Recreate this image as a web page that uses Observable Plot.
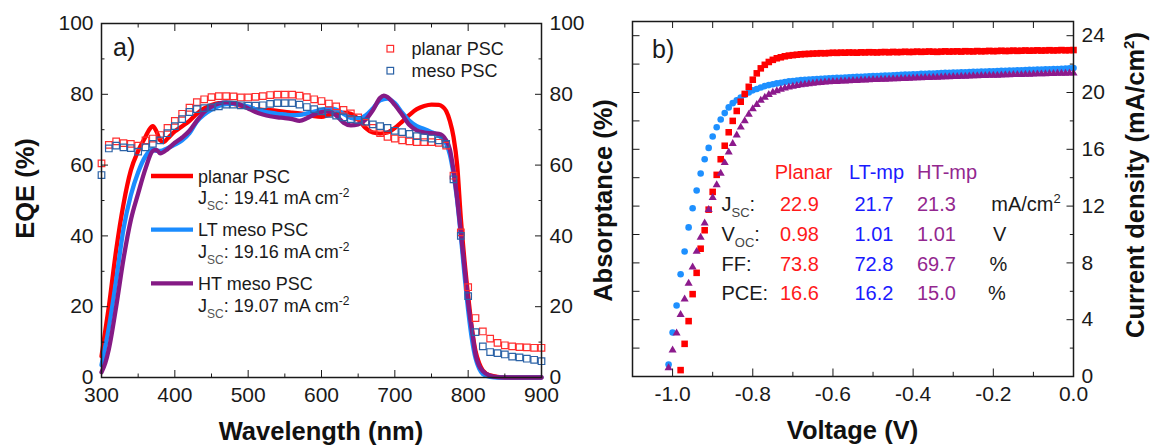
<!DOCTYPE html>
<html><head><meta charset="utf-8">
<script src="https://cdn.jsdelivr.net/npm/d3@7"></script>
<script src="https://cdn.jsdelivr.net/npm/@observablehq/plot@0.6"></script>
<style>
body{margin:0;background:#fff;}
#chart{position:relative;width:1152px;height:447px;overflow:hidden;background:#fff;}
#chart svg{position:absolute;top:0;}
</style></head><body><div id="chart"></div>
<script>
// ---------- Panel a: EQE data ----------
const wlSquares = [300,310,320,330,340,350,360,370,380,390,400,410,420,430,440,450,460,470,480,490,500,510,520,530,540,550,560,570,580,590,600,610,620,630,640,650,660,670,680,690,700,710,720,730,740,750,760,770,780,790,800,810,820,830,840,850,860,870,880,890,900];
const eqePlanarSquares = [60.5,65.7,66.7,66.2,66,65.5,67,67.5,68.5,70.5,72.5,74.5,76.2,77.8,78.6,79.2,79.5,79.5,79.4,79.1,79.1,79.3,79.5,79.8,79.9,79.9,79.9,79.6,79.2,78.6,78.1,77.4,76.6,75.6,74.6,73.5,72,70.5,69,68,67.5,67,66.7,66.5,66.5,66.5,66.3,65.5,57,41,25.5,16.8,13,11,9.8,9.1,8.8,8.6,8.5,8.4,8.4];
const eqeMesoSquares = [57.2,64.7,65.5,65,64.8,63.8,65,66,67,69,71,73,75,75.8,76.1,76.3,76.6,77.1,77.1,76.9,76.8,76.8,76.9,77.3,77.5,77.5,77.5,77.1,76.4,75.8,75.2,74.5,74,73.5,73,72.8,72.3,71.5,71,70.5,69.7,69.3,68.8,68.2,67.8,67.5,67,66,56,40,23,12.8,8.8,7.2,6.9,6.5,5.9,5.7,5.3,5.0,4.6];

const wlPlanarLine = [300,305,310,320,330,340,350,360,365,370,375,380,385,390,400,410,420,430,440,450,460,470,480,490,500,510,520,530,540,550,560,570,580,590,600,610,620,630,640,650,660,670,680,690,700,710,720,730,740,750,760,765,770,775,780,785,790,795,800,805,810,815,820,830,840,850,870,900];
const eqePlanarLine = [6,13,20,36,49,58.5,64,68,70,71,69.5,67,66.5,67.5,69.5,71,72.5,74.5,76,77,77.5,77.5,77.3,76.8,76.2,75.8,75.6,75.5,75.3,75,74.8,74.6,74.3,73.8,73.6,74.2,74.6,74.8,74.5,73,70.5,69.2,68.9,69.2,70.5,72.3,74.2,75.8,76.7,77.1,77,76.5,75.3,72.5,68,60,45,33,23,14,7.5,4,2,0.6,0.2,0.1,0,0];

const wlLTLine = [300,310,320,330,340,350,360,370,375,380,390,400,410,420,430,440,450,460,470,480,490,500,510,520,530,540,550,560,570,580,590,600,610,620,630,640,650,660,670,680,690,700,710,720,730,740,750,760,770,775,780,785,790,795,800,805,810,815,820,830,840,900];
const eqeLTLine = [3.5,14,27.5,42,51.5,58,62.5,64.5,64,64,64.8,65.8,67,69,72.3,74.3,75.7,76.7,77.2,77.3,77,76.5,75.8,75.2,74.8,74.5,74.3,74.1,74.2,74.6,75.1,75.6,76,75.7,74.5,73.3,73,74,76,78.3,78.8,77.5,74.8,72.5,71,70.2,69.3,68.3,66,63,57.5,50,40,29,19,11,5.5,2.5,1,0.2,0,0];

const wlHTLine = [300,305,310,320,330,340,350,360,370,375,380,390,400,410,420,430,440,450,460,470,480,490,500,510,520,530,540,550,560,570,580,590,600,610,620,630,640,650,660,670,680,685,690,700,710,720,730,740,750,760,770,775,780,785,790,795,800,805,810,815,820,830,840,850,900];
const eqeHTLine = [1.5,4,8,20,33.5,44.5,52,59,64,64.3,63.3,64.5,66.3,67.8,69.7,72.5,75,76.5,77.4,77.7,77.5,77,76,75,74.3,73.8,73.5,73.3,73,72.5,73.2,74.3,75,75.2,74,72,71.2,71.5,72.8,75.5,79,79.6,79.2,77,74.2,71.3,69.8,69.2,69,68.8,67,64.5,58.5,50.5,41,31,21,13.5,6.5,3.3,1.8,0.5,0.1,0,0];

const legendSquareLabels = ["planar PSC", "meso PSC"];
const legendLineLabels = ["planar PSC", "LT meso PSC", "HT meso PSC"];
const legendJsc = ["19.41", "19.16", "19.07"];

const xMajorA = [300,400,500,600,700,800,900];
const xMinorA = [350,450,550,650,750,850];
const yMajorA = [0,20,40,60,80,100];
const yMinorA = [10,30,50,70,90];

// ---------- Panel b: J-V data ----------
const voltage = [
-1.01,-1.00,-0.99,-0.98,-0.97,-0.96,-0.95,-0.94,-0.93,-0.92,
-0.91,-0.90,-0.89,-0.88,-0.87,-0.86,-0.85,-0.84,-0.83,-0.82,
-0.81,-0.80,-0.79,-0.78,-0.77,-0.76,-0.75,-0.74,-0.73,-0.72,
-0.71,-0.70,-0.69,-0.68,-0.67,-0.66,-0.65,-0.64,-0.63,-0.62,
-0.61,-0.60,-0.59,-0.58,-0.57,-0.56,-0.55,-0.54,-0.53,-0.52,
-0.51,-0.50,-0.49,-0.48,-0.47,-0.46,-0.45,-0.44,-0.43,-0.42,
-0.41,-0.40,-0.39,-0.38,-0.37,-0.36,-0.35,-0.34,-0.33,-0.32,
-0.31,-0.30,-0.29,-0.28,-0.27,-0.26,-0.25,-0.24,-0.23,-0.22,
-0.21,-0.20,-0.19,-0.18,-0.17,-0.16,-0.15,-0.14,-0.13,-0.12,
-0.11,-0.10,-0.09,-0.08,-0.07,-0.06,-0.05,-0.04,-0.03,-0.02,
-0.01,0.00];
const jPlanar = [
null,null,null,0.45,2.3,3.9,5.8,7.3,9.0,10.3,
11.75,13.0,14.2,15.3,16.25,17.2,18.0,18.7,19.35,19.9,
20.4,20.9,21.35,21.7,21.95,22.15,22.3,22.41,22.48,22.55,
22.6,22.63,22.66,22.69,22.71,22.72,22.74,22.75,22.77,22.76,
22.78,22.8,22.79,22.81,22.8,22.82,22.81,22.8,22.83,22.82,
22.84,22.83,22.82,22.84,22.85,22.83,22.86,22.84,22.85,22.87,
22.85,22.86,22.88,22.86,22.87,22.89,22.87,22.86,22.88,22.9,
22.88,22.89,22.9,22.88,22.91,22.9,22.89,22.92,22.9,22.91,
22.93,22.91,22.92,22.94,22.92,22.93,22.95,22.93,22.94,22.96,
22.94,22.95,22.97,22.95,22.96,22.98,22.96,22.97,22.99,22.97,
22.98,22.99];
const jLT = [
0.85,3.1,5.0,7.2,8.8,10.5,11.85,13.1,14.3,15.3,
16.1,16.9,17.55,18.1,18.55,18.95,19.25,19.45,19.65,19.85,
20.0,20.15,20.25,20.35,20.45,20.52,20.58,20.64,20.69,20.74,
20.78,20.81,20.84,20.87,20.89,20.91,20.93,20.95,20.97,20.98,
21.0,21.01,21.03,21.04,21.06,21.07,21.08,21.1,21.11,21.12,
21.14,21.15,21.16,21.18,21.19,21.2,21.22,21.23,21.24,21.26,
21.27,21.28,21.29,21.31,21.32,21.33,21.34,21.36,21.37,21.38,
21.39,21.4,21.41,21.42,21.43,21.44,21.45,21.46,21.47,21.48,
21.49,21.5,21.51,21.52,21.53,21.54,21.55,21.56,21.57,21.58,
21.59,21.6,21.61,21.62,21.63,21.64,21.65,21.66,21.67,21.68,
21.7,21.72];
const jHT = [
0.6,1.85,3.05,4.35,5.45,6.55,7.7,8.8,9.8,10.8,
11.75,12.6,13.5,14.3,15.05,15.8,16.4,17.0,17.55,18.0,
18.45,18.85,19.15,19.45,19.65,19.85,20.0,20.12,20.22,20.3,
20.37,20.43,20.48,20.53,20.57,20.61,20.64,20.67,20.7,20.72,
20.74,20.76,20.77,20.79,20.8,20.82,20.83,20.84,20.86,20.87,
20.88,20.9,20.91,20.92,20.93,20.94,20.95,20.96,20.97,20.98,
21.0,21.01,21.02,21.03,21.04,21.05,21.06,21.07,21.08,21.09,
21.1,21.11,21.12,21.13,21.14,21.15,21.16,21.17,21.18,21.19,
21.2,21.2,21.21,21.22,21.23,21.24,21.25,21.26,21.26,21.27,
21.28,21.29,21.3,21.3,21.31,21.32,21.33,21.34,21.34,21.35,
21.36,21.37];

const devices = ["Planar", "LT-mp", "HT-mp"];
const statsPlanar = ["22.9", "0.98", "73.8", "16.6"];
const statsLT = ["21.7", "1.01", "72.8", "16.2"];
const statsHT = ["21.3", "1.01", "69.7", "15.0"];
const statUnits = ["mA/cm", "V", "%", "%"];

const xMajorB = [-1.0,-0.8,-0.6,-0.4,-0.2,0.0];
const xMinorB = [-0.9,-0.7,-0.5,-0.3,-0.1];
const xTopB = [-1.0,-0.9,-0.8,-0.7,-0.6,-0.5,-0.4,-0.3,-0.2,-0.1];
const yMajorB = [0,4,8,12,16,20,24];
const yMinorB = [2,6,10,14,18,22];
const yLeftB = [2,4,6,8,10,12,14,16,18,20,22,24];

// ---------- styling ----------
const FONT = "'Liberation Sans', Arial, Helvetica, sans-serif";
const TXT = "#1a1a1a";
const C = {
  red: "#ff0000", redSq: "#ff2d2d", blueLine: "#1a8cff", purple: "#851a85",
  mesoSq: "#2b62a6", jvBlue: "#1e90ff", jvPurple: "#8c1a8c",
  tblRed: "#ff1a1a", tblBlue: "#1a1aff", tblPurple: "#93278f"
};
const blank = () => "";
const fmt1 = d => d.toFixed(1);

const rows = (xs, ys) => xs.map((x, i) => ({x, y: ys[i]})).filter(d => d.y != null);

function frameAxes(xMaj, xMin, xTop, yMaj, yMin, yLeftTicks, xFmt, leftLabels, tl) {
  const m = [];
  m.push(Plot.axisX(xMaj, {anchor: "bottom", tickSize: 0, tickPadding: 10, tickFormat: xFmt, label: null, fontSize: 21, fill: TXT}));
  m.push(Plot.axisX(xMaj, {anchor: "bottom", tickSize: -tl.big, tickFormat: blank, label: null, stroke: TXT}));
  m.push(Plot.axisX(xMin, {anchor: "bottom", tickSize: -tl.small, tickFormat: blank, label: null, stroke: TXT}));
  m.push(Plot.axisX(xTop.major, {anchor: "top", tickSize: -tl.topBig, tickFormat: blank, label: null, stroke: TXT}));
  if (xTop.minor.length) m.push(Plot.axisX(xTop.minor, {anchor: "top", tickSize: -tl.small, tickFormat: blank, label: null, stroke: TXT}));
  // right
  m.push(Plot.axisY(yMaj, {anchor: "right", tickSize: 0, tickPadding: 8, tickFormat: d => String(d), label: null, fontSize: 21, fill: TXT}));
  m.push(Plot.axisY(yMaj, {anchor: "right", tickSize: -tl.big, tickFormat: blank, label: null, stroke: TXT}));
  m.push(Plot.axisY(yMin, {anchor: "right", tickSize: -tl.small, tickFormat: blank, label: null, stroke: TXT}));
  // left
  if (leftLabels) m.push(Plot.axisY(yMaj, {anchor: "left", tickSize: 0, tickPadding: 8, tickFormat: d => String(d), label: null, fontSize: 21, fill: TXT}));
  m.push(Plot.axisY(yLeftTicks.major, {anchor: "left", tickSize: -tl.big, tickFormat: blank, label: null, stroke: TXT}));
  if (yLeftTicks.minor.length) m.push(Plot.axisY(yLeftTicks.minor, {anchor: "left", tickSize: -tl.small, tickFormat: blank, label: null, stroke: TXT}));
  m.push(Plot.frame({stroke: TXT, strokeWidth: 1.5}));
  return m;
}

// ---------- Panel a ----------
const plotA = Plot.plot({
  width: 576, height: 447,
  marginTop: 23, marginRight: 35, marginBottom: 70, marginLeft: 101,
  x: {domain: [300, 900], label: null},
  y: {domain: [0, 100], label: null},
  style: {background: "transparent", overflow: "visible", fontFamily: FONT, fontSize: "21px", color: TXT},
  marks: [
    Plot.line(rows(wlPlanarLine, eqePlanarLine), {x: "x", y: "y", stroke: C.red, strokeWidth: 4.3, curve: "monotone-x"}),
    Plot.line(rows(wlLTLine, eqeLTLine), {x: "x", y: "y", stroke: C.blueLine, strokeWidth: 4.3, curve: "monotone-x"}),
    Plot.line(rows(wlHTLine, eqeHTLine), {x: "x", y: "y", stroke: C.purple, strokeWidth: 4.3, curve: "monotone-x"}),
    Plot.dot(rows(wlSquares, eqePlanarSquares), {x: "x", y: "y", symbol: "square", r: 3.7, stroke: C.redSq, strokeWidth: 1.2, fill: "none"}),
    Plot.dot(rows(wlSquares, eqeMesoSquares), {x: "x", y: "y", symbol: "square", r: 3.7, stroke: C.mesoSq, strokeWidth: 1.2, fill: "none"}),
    ...frameAxes(xMajorA, xMinorA, {major: xMajorA, minor: xMinorA}, yMajorA, yMinorA, {major: yMajorA, minor: yMinorA}, d => String(d), true, {big: 7, small: 3.5, topBig: 7})
  ]
});

// ---------- Panel b ----------
const plotB = Plot.plot({
  width: 576, height: 447,
  marginTop: 21, marginRight: 79, marginBottom: 71, marginLeft: 56,
  x: {domain: [-1.1, 0], label: null},
  y: {domain: [0, 25], label: null},
  style: {background: "transparent", overflow: "visible", fontFamily: FONT, fontSize: "21px", color: TXT},
  marks: [
    Plot.dot(rows(voltage, jLT), {x: "x", y: "y", symbol: "circle", r: 3.3, fill: C.jvBlue}),
    Plot.dot(rows(voltage, jPlanar), {x: "x", y: "y", symbol: "square", r: 3.7, fill: C.red}),
    Plot.dot(rows(voltage, jHT), {x: "x", y: "y", symbol: "triangle", r: 3.0, fill: C.jvPurple}),
    ...frameAxes(xMajorB, xMinorB, {major: xTopB, minor: []}, yMajorB, yMinorB, {major: yLeftB, minor: []}, fmt1, false, {big: 7.5, small: 4.2, topBig: 6})
  ]
});

const chart = document.getElementById("chart");
plotA.style.left = "0px";
plotB.style.left = "576px";
chart.appendChild(plotA);
chart.appendChild(plotB);

// ---------- annotations ----------
function addText(sel, x, y, str, o = {}) {
  const t = sel.append("text").attr("x", x).attr("y", y)
    .attr("font-family", FONT).attr("font-size", o.size || 18)
    .attr("fill", o.fill || TXT).attr("text-anchor", o.anchor || "start");
  if (o.bold) t.attr("font-weight", "bold");
  if (o.transform) t.attr("transform", o.transform).attr("x", 0).attr("y", 0);
  if (str != null) t.text(str);
  return t;
}
function subLabel(sel, x, y, main, sub, rest, size, subSize, fill) {
  const t = addText(sel, x, y, null, {size, fill});
  t.append("tspan").text(main);
  t.append("tspan").attr("font-size", subSize).attr("dy", size * 0.3).attr("fill", "#444").text(sub);
  t.append("tspan").attr("dy", -size * 0.3).text(rest);
  return t;
}

const gA = d3.select(plotA).append("g");
// a) label
addText(gA, 113, 56, "a)", {size: 25});
// square legend
const sqColors = [C.redSq, C.mesoSq];
legendSquareLabels.forEach((lab, i) => {
  const cy = 48.7 + i * 22;
  gA.append("rect").attr("x", 390.3 - 3.3).attr("y", cy - 3.3).attr("width", 6.6).attr("height", 6.6)
    .attr("fill", "none").attr("stroke", sqColors[i]).attr("stroke-width", 1.2);
  addText(gA, 411.6, cy + 6.3, lab, {size: 18});
});
// line legend
const lineColors = [C.red, C.blueLine, C.purple];
legendLineLabels.forEach((lab, i) => {
  const ly = 176 + i * 53.7;
  gA.append("line").attr("x1", 151).attr("x2", 193).attr("y1", ly).attr("y2", ly)
    .attr("stroke", lineColors[i]).attr("stroke-width", 4.3);
  addText(gA, 198, ly + 6.7, lab, {size: 18});
  const t = addText(gA, 198, ly + 28.4, null, {size: 18});
  t.append("tspan").text("J");
  t.append("tspan").attr("font-size", 12).attr("dy", 6).attr("fill", "#555").text("SC");
  t.append("tspan").attr("dy", -6).text(": " + legendJsc[i] + " mA cm");
  t.append("tspan").attr("font-size", 12).attr("dy", -7).text("-2");
});
// axis titles a
addText(gA, 0, 0, "EQE (%)", {size: 25.5, bold: true, anchor: "middle", transform: "translate(33.5,188.5) rotate(-90)", fill: "#111"});
addText(gA, 321, 440, "Wavelength (nm)", {size: 25.5, bold: true, anchor: "middle", fill: "#111"});

const OX = 576;
const gB = d3.select(plotB).append("g");
addText(gB, 652 - OX, 58, "b)", {size: 25});
addText(gB, 0, 0, "Absorptance (%)", {size: 25.5, bold: true, anchor: "middle", transform: `translate(${611.5 - OX},200.5) rotate(-90)`, fill: "#111"});
addText(gB, 852.5 - OX, 439, "Voltage (V)", {size: 25.5, bold: true, anchor: "middle", fill: "#111"});
{
  const t = addText(gB, 0, 0, null, {size: 25.5, bold: true, anchor: "middle", transform: `translate(${1143.5 - OX},185) rotate(-90)`, fill: "#111"});
  t.append("tspan").text("Current density (mA/cm");
  t.append("tspan").attr("font-size", 15).attr("dy", -10).text("2");
  t.append("tspan").attr("dy", 10).text(")");
}
// table
const colX = [774.7, 848.9, 917.1];
const valX = [780, 854.5, 917];
const colColors = [C.tblRed, C.tblBlue, C.tblPurple];
devices.forEach((d, i) => addText(gB, colX[i] - OX, 178.5, d, {size: 20, fill: colColors[i]}));
const rowY = [210.5, 240.5, 270.5, 300];
subLabel(gB, 721.5 - OX, rowY[0], "J", "SC", ":", 20, 13, TXT);
subLabel(gB, 721.5 - OX, rowY[1], "V", "OC", ":", 20, 13, TXT);
addText(gB, 721.5 - OX, rowY[2], "FF:", {size: 20});
addText(gB, 721.5 - OX, rowY[3], "PCE:", {size: 20});
[statsPlanar, statsLT, statsHT].forEach((vals, c) => {
  vals.forEach((v, r) => addText(gB, valX[c] - OX, rowY[r], v, {size: 20, fill: colColors[c]}));
});
statUnits.forEach((u, r) => {
  const ux = [991.3, 993, 989.4, 988][r] - OX;
  const t = addText(gB, ux, rowY[r], u, {size: 20});
  if (r === 0) t.append("tspan").attr("font-size", 13).attr("dy", -8).text("2");
});
</script></body></html>
